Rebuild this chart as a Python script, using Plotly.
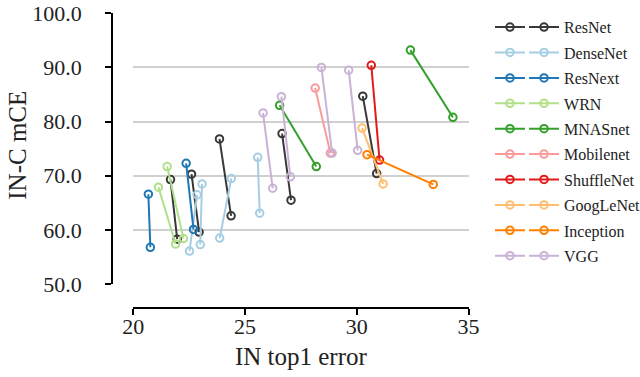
import plotly.graph_objects as go

# model families, legend order
families = ["ResNet", "DenseNet", "ResNext", "WRN", "MNASnet",
            "Mobilenet", "ShuffleNet", "GoogLeNet", "Inception", "VGG"]
colors = ["#383838", "#a6cee3", "#1f78b4", "#b2df8a", "#33a02c",
          "#fb9a99", "#e31a1c", "#fdbf6f", "#ff7f00", "#cab2d6"]

# one row per model: two (top1 error, mCE) points joined by a segment
model_family = ["ResNet", "ResNet", "ResNet", "ResNet", "ResNet",
                "DenseNet", "DenseNet", "DenseNet", "DenseNet",
                "ResNext", "ResNext",
                "WRN", "WRN",
                "MNASnet", "MNASnet",
                "Mobilenet",
                "ShuffleNet",
                "GoogLeNet",
                "Inception",
                "VGG", "VGG", "VGG", "VGG"]
top1_a = [21.67, 22.61, 23.86, 26.66, 30.27,
          22.86, 23.08, 24.39, 25.57,
          20.68, 22.37,
          21.13, 21.52,
          26.55, 32.40,
          28.14,
          30.65,
          30.24,
          30.46,
          25.81, 26.63, 28.42, 29.64]
mce_a = [69.3, 70.3, 76.8, 77.8, 84.7,
         66.5, 68.5, 69.5, 73.4,
         66.6, 72.3,
         67.9, 71.7,
         83.0, 93.2,
         86.2,
         90.4,
         78.8,
         73.9,
         81.6, 84.6, 90.0, 89.5]
top1_b = [21.97, 22.95, 24.38, 27.06, 30.89,
          22.52, 23.00, 23.87, 25.66,
          20.77, 22.70,
          21.90, 22.25,
          28.19, 34.30,
          28.82,
          31.02,
          31.18,
          33.42,
          26.24, 27.03, 28.90, 30.04]
mce_b = [58.3, 59.6, 62.6, 65.5, 70.4,
         56.1, 57.3, 58.5, 63.1,
         56.8, 60.1,
         57.4, 58.4,
         71.7, 80.8,
         74.2,
         72.9,
         68.5,
         68.4,
         67.7, 69.8, 74.2, 74.7]

fig = go.Figure()

for fam, col in zip(families, colors):
    xs, ys = [], []
    for i, f in enumerate(model_family):
        if f == fam:
            xs += [top1_a[i], top1_b[i], None]
            ys += [mce_a[i], mce_b[i], None]
    style = dict(mode="lines+markers",
                 line=dict(color=col, width=2),
                 marker=dict(symbol="circle-open", size=7.5, color=col,
                             line=dict(width=2, color=col)))
    fig.add_trace(go.Scatter(x=xs, y=ys, name=" ", legend="legend",
                             legendgroup=fam + "_a", **style))
    # second legend column carries the names
    fig.add_trace(go.Scatter(x=[None], y=[None], name=fam, legend="legend2",
                             legendgroup=fam + "_b", **style))

tick_font = dict(family="Liberation Serif", size=22, color="#222")
title_font = dict(family="Liberation Serif", size=25, color="#222")
leg = dict(xref="container", yref="container", y=0.973,
           xanchor="left", yanchor="top",
           font=dict(family="Liberation Serif", size=16, color="#222"),
           tracegroupgap=1.6, maxheight=370, bgcolor="rgba(0,0,0,0)",
           itemclick=False)
fig.update_layout(
    width=640, height=377,
    margin=dict(l=112, r=171, t=13, b=69),
    paper_bgcolor="white", plot_bgcolor="white",
    font=dict(family="Liberation Serif", color="#222"),
    showlegend=True,
    xaxis=dict(domain=[0.058, 1], range=[19.98, 35.02], anchor="free",
               position=0, automargin=False,
               showline=True, linecolor="black", linewidth=1.5,
               ticks="outside", ticklen=6, tickwidth=1.5, tickcolor="black",
               tickvals=[20, 25, 30, 35], showgrid=False, zeroline=False,
               tickfont=tick_font, ticklabelstandoff=-7,
               ticklabeloverflow="allow",
               title=dict(text="IN top1 error", font=title_font, standoff=8)),
    yaxis=dict(domain=[0.08, 1], range=[49.95, 100.05], anchor="free",
               position=0, automargin=False,
               showline=True, linecolor="black", linewidth=1.5,
               ticks="outside", ticklen=6, tickwidth=1.5, tickcolor="black",
               dtick=10, tickformat=".1f", showgrid=True,
               gridcolor="#d0d0d0", gridwidth=1.5, zeroline=False,
               tickfont=tick_font, ticklabelstandoff=19,
               ticklabeloverflow="allow"),
    legend=dict(x=0.7656, **leg),
    legend2=dict(x=0.8188, **leg),
    annotations=[dict(text="IN-C mCE", textangle=-90, showarrow=False,
                      xref="paper", yref="paper", x=-0.2633, y=0.55,
                      xanchor="center", yanchor="middle", font=title_font)],
)

# page body has a default 8px margin; drop it so the figure sits at 0,0
fig.write_html("out.html", config={"displayModeBar": False},
               post_script="document.body.style.margin='0';")
